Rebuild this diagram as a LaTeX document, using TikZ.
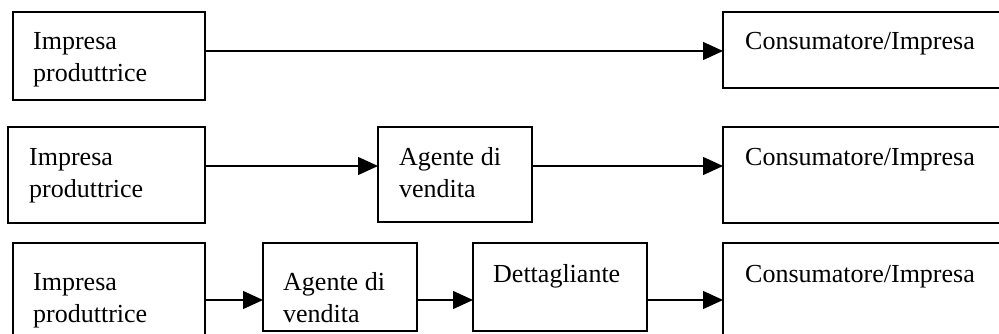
\documentclass[tikz,border=0pt]{standalone}
\usepackage{fontspec}
\setmainfont{Liberation Serif}
\usetikzlibrary{arrows.meta}
\tikzset{
  box/.style={draw, line width=1.3pt, inner sep=0pt, outer sep=0pt, anchor=north west},
  txt/.style={anchor=base west, inner sep=0pt, align=left, font=\fontsize{26}{32}\selectfont},
  arr/.style={line width=1.3pt, -{Triangle[length=20pt, width=18pt]}}
}
\begin{document}
\begin{tikzpicture}[x=1pt, y=-1pt]
\useasboundingbox (0,0) rectangle (999,334);
\clip (0,0) rectangle (999,334);
% Row 1
\node[box, minimum width=192pt, minimum height=88pt] (r1a) at (13,12) {};
\node[box, minimum width=290pt, minimum height=76pt] (r1c) at (723,12) {};
\node[txt] (t1a) at (33,82) {Impresa\\produttrice};
\node[txt] (t1c) at (745,50) {Consumatore/Impresa};
\draw[arr] (r1a.east |- 0,51) -- (r1c.west |- 0,51);
% Row 2
\node[box, minimum width=197pt, minimum height=96pt] (r2a) at (8,127) {};
\node[box, minimum width=154pt, minimum height=95pt] (r2b) at (378,127) {};
\node[box, minimum width=290pt, minimum height=96pt] (r2c) at (723,127) {};
\node[txt] (t2a) at (29,197) {Impresa\\produttrice};
\node[txt] (t2b) at (399,197) {Agente di\\vendita};
\node[txt] (t2c) at (745,165) {Consumatore/Impresa};
\draw[arr] (r2a.east |- 0,166) -- (r2b.west |- 0,166);
\draw[arr] (r2b.east |- 0,166) -- (r2c.west |- 0,166);
% Row 3
\node[box, minimum width=192pt, minimum height=110pt] (r3a) at (13,243) {};
\node[box, minimum width=154pt, minimum height=88pt] (r3b) at (263,243) {};
\node[box, minimum width=174pt, minimum height=88pt] (r3c) at (473,243) {};
\node[box, minimum width=290pt, minimum height=110pt] (r3d) at (723,243) {};
\node[txt] (t3a) at (33,322) {Impresa\\produttrice};
\node[txt] (t3b) at (283,322) {Agente di\\vendita};
\node[txt] (t3c) at (493,282) {Dettagliante};
\node[txt] (t3d) at (745,282) {Consumatore/Impresa};
\draw[arr] (r3a.east |- 0,300) -- (r3b.west |- 0,300);
\draw[arr] (r3b.east |- 0,300) -- (r3c.west |- 0,300);
\draw[arr] (r3c.east |- 0,300) -- (r3d.west |- 0,300);
\end{tikzpicture}
\end{document}
